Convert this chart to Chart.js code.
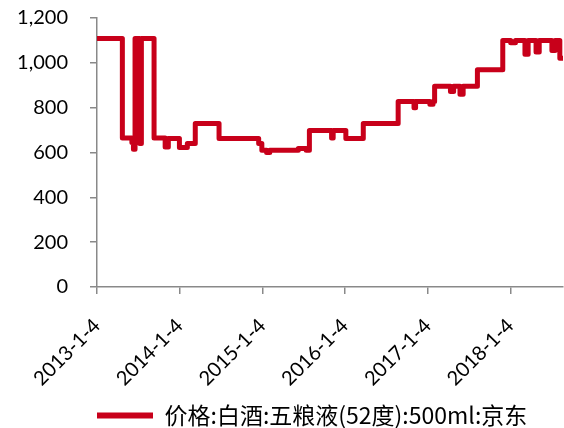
<!DOCTYPE html>
<html>
<head>
<meta charset="utf-8">
<script src="https://cdn.jsdelivr.net/npm/chart.js@4/dist/chart.umd.min.js"></script>
<style>
  html, body { margin: 0; padding: 0; background: #fff; }
  #wrap { width: 564px; height: 428px; }
</style>
</head>
<body>
<div id="wrap"><canvas id="c" width="564" height="428"></canvas></div>
<script>
// Weekly JD price of Wuliangye 52° 500ml, recorded as the dates where the price changes
const seriesName = '价格:白酒:五粮液(52度):500ml:京东';
const changeDates = [
  '2013-01-04', '2013-04-26', '2013-06-07', '2013-06-14', '2013-06-21', '2013-07-12',
  '2013-07-19', '2013-09-13', '2013-11-01', '2013-11-15', '2014-01-03', '2014-02-07',
  '2014-03-14', '2014-06-27', '2014-12-19', '2015-01-02', '2015-01-23', '2015-02-06',
  '2015-06-12', '2015-07-17', '2015-07-31', '2015-11-06', '2015-11-13', '2016-01-08',
  '2016-03-25', '2016-08-26', '2016-11-04', '2016-11-11', '2017-01-13', '2017-01-27',
  '2017-02-03', '2017-04-14', '2017-04-28', '2017-05-26', '2017-06-09', '2017-08-11',
  '2017-12-01', '2018-01-05', '2018-01-26', '2018-03-09', '2018-03-23', '2018-04-27',
  '2018-05-11', '2018-07-06', '2018-07-20', '2018-08-10', '2018-08-24'
];
const prices = [
  1109, 665, 645, 615, 1109, 640,
  1109, 665, 625, 662, 622, 640,
  729, 662, 640, 610, 600, 610,
  618, 610, 698, 665, 698, 662,
  729, 827, 800, 827, 815, 827,
  896, 872, 896, 860, 896, 969,
  1100, 1090, 1100, 1038, 1100, 1048,
  1100, 1055, 1100, 1020, 1020
];
const tickLabels = ['2013-1-4', '2014-1-4', '2015-1-4', '2016-1-4', '2017-1-4', '2018-1-4'];
const yMin = 0, yMax = 1200, yStep = 200;

function toDay(s) {
  const [y, m, d] = s.split('-').map(Number);
  return Date.UTC(y, m - 1, d) / 86400000;
}

const points = changeDates.map((d, i) => ({ x: toDay(d), y: prices[i] }));
const tickDays = tickLabels.map(toDay);

const lineRed = '#C8001A';
const axisGray = '#898989';
const textFont = { family: 'Lato, "Noto Sans CJK SC", sans-serif', size: 20 };

// Place the legend line sample under the plot's left edge and a little lower
const legendPlacement = {
  id: 'legendPlacement',
  afterLayout(chart) {
    const lg = chart.legend;
    if (!lg || !lg.lineWidths) return;
    const pad = lg.options.labels.padding;
    const start = (lg.left + pad + lg.right - lg.lineWidths[0]) / 2;
    const dx = chart.chartArea.left - start;
    const dy = 9;
    lg.left += dx; lg.right += dx;
    lg.top += dy; lg.bottom += dy;
  }
};

new Chart(document.getElementById('c'), {
  type: 'line',
  data: {
    datasets: [{
      label: seriesName,
      data: points,
      stepped: true,
      borderColor: lineRed,
      backgroundColor: lineRed,
      borderWidth: 5,
      borderJoinStyle: 'round',
      pointRadius: 0,
      fill: false
    }]
  },
  options: {
    responsive: false,
    animation: false,
    layout: { padding: { top: 18, right: 1, left: 0, bottom: 0 } },
    scales: {
      x: {
        type: 'linear',
        min: points[0].x,
        max: points[points.length - 1].x,
        afterBuildTicks: (scale) => { scale.ticks = tickDays.map(v => ({ value: v })); },
        afterFit: (scale) => { scale.height = 100; scale.paddingLeft = 0; scale.paddingRight = 0; },
        border: { display: true, color: axisGray, width: 1.5 },
        grid: { display: true, drawOnChartArea: false, drawTicks: true, tickLength: 7, color: axisGray, lineWidth: 1.5 },
        ticks: {
          autoSkip: false,
          maxRotation: 45,
          minRotation: 45,
          padding: 20,
          color: '#000',
          font: textFont,
          callback: (v, i) => tickLabels[i]
        }
      },
      y: {
        min: yMin,
        max: yMax,
        afterFit: (scale) => { scale.width = 97; scale.paddingTop = 0; scale.paddingBottom = 0; },
        border: { display: true, color: axisGray, width: 1.5 },
        grid: { display: true, drawOnChartArea: false, drawTicks: true, tickLength: 7, color: axisGray, lineWidth: 1.5 },
        ticks: {
          stepSize: yStep,
          padding: 22,
          color: '#000',
          font: textFont,
          callback: (v) => v.toLocaleString('en-US')
        }
      }
    },
    plugins: {
      tooltip: { enabled: false },
      legend: {
        position: 'bottom',
        labels: {
          boxWidth: 56,
          boxHeight: 6,
          padding: 8,
          color: '#000',
          font: { family: '"Noto Sans CJK SC", Lato, sans-serif', size: 23 },
          generateLabels: (chart) => Chart.defaults.plugins.legend.labels.generateLabels(chart)
            .map(item => Object.assign(item, { lineWidth: 0, fillStyle: lineRed }))
        }
      }
    }
  },
  plugins: [legendPlacement]
});
</script>
</body>
</html>
